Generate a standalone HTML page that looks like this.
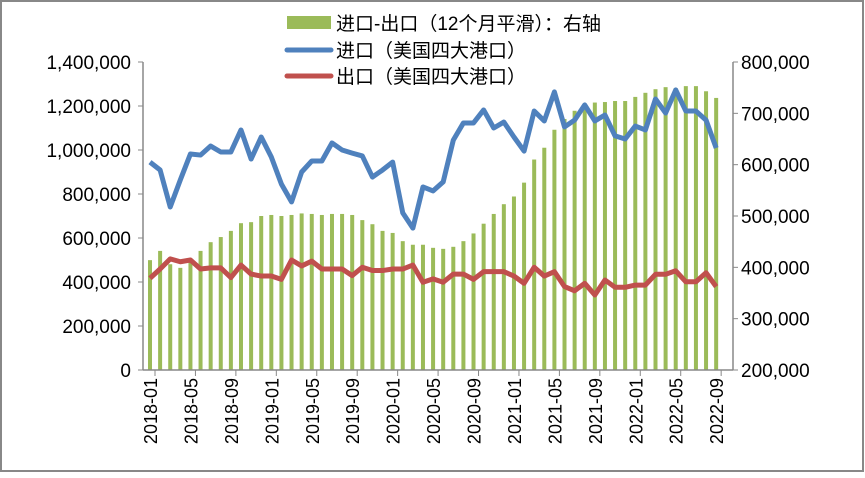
<!DOCTYPE html>
<html><head><meta charset="utf-8"><style>
body{margin:0;background:#fff;}
svg text{font-family:"Liberation Sans","Noto Sans CJK SC",sans-serif;fill:#000;}
</style></head><body>
<svg id="c" width="865" height="473" xmlns="http://www.w3.org/2000/svg">
<rect x="1" y="1" width="862" height="470" fill="#fff" stroke="#888" stroke-width="2"/>
<g id="legend">
<rect x="287" y="16" width="44" height="13" fill="#9bbb59"/>
<text x="336" y="30" font-size="19">进口-出口（12个月平滑）：右轴</text>
<line x1="287" y1="50" x2="331" y2="50" stroke="#4f81bd" stroke-width="5" stroke-linecap="round"/>
<text x="336" y="57" font-size="19">进口（美国四大港口）</text>
<line x1="287" y1="76" x2="331" y2="76" stroke="#c0504d" stroke-width="5" stroke-linecap="round"/>
<text x="336" y="83" font-size="19">出口（美国四大港口）</text>
</g>
<g id="plot"></g>
</svg>
<script>
const months=[];for(let y=2018;y<=2022;y++)for(let m=1;m<=12;m++){if(y===2022&&m>9)break;months.push(y+'-'+String(m).padStart(2,'0'));}
const imports=[945,909,741,864,982,977,1018,991,991,1091,959,1059,968,845,764,900,950,950,1032,1000,986,973,877,909,945,714,645,832,814,855,1045,1123,1123,1182,1100,1127,1059,995,1177,1132,1264,1105,1136,1205,1132,1159,1064,1050,1109,1091,1232,1168,1273,1177,1177,1136,1009];
const exportsV=[417,459,505,492,500,459,464,464,420,477,436,427,427,412,500,473,495,459,459,459,429,467,452,452,459,459,477,399,414,399,436,436,412,447,447,447,427,394,467,427,447,379,360,394,341,409,376,376,386,386,435,435,451,401,401,442,379];
const balance=[414,432,406,399,413,432,449,459,471,486,488,500,502,500,502,505,504,502,504,504,502,492,484,471,467,451,444,444,438,436,440,451,466,485,504,523,538,565,610,633,668,689,705,716,721,722,724,724,732,740,747,751,749,753,753,743,730];
const leftTicks=[0,200,400,600,800,1000,1200,1400];
const rightTicks=[200,300,400,500,600,700,800];
const NS='http://www.w3.org/2000/svg';
const X0=150,DX=10.11,YT=62,YB=370;
const xs=i=>X0+i*DX;
const yL=v=>YB-v/1400*(YB-YT);
const yR=v=>YB-(v-200)/600*(YB-YT);
const g=document.getElementById('plot');
function mk(t,a){const e=document.createElementNS(NS,t);for(const k in a)e.setAttribute(k,a[k]);g.appendChild(e);return e;}
const fmt=v=>(v*1000).toLocaleString('en-US');
balance.forEach((v,i)=>{const e=mk('rect',{x:xs(i)-2,y:yR(v),width:4,height:YB-yR(v),fill:'#9bbb59'});

});
let ax=mk('line',{x1:143,y1:YT,x2:143,y2:YB,stroke:'#888','stroke-width':1.5});


ax=mk('line',{x1:733,y1:YT,x2:733,y2:YB,stroke:'#888','stroke-width':1.5});


ax=mk('line',{x1:143,y1:YB,x2:733,y2:YB,stroke:'#888','stroke-width':1.5});


leftTicks.forEach(v=>{const y=yL(v);mk('line',{x1:138,y1:y,x2:143,y2:y,stroke:'#888'});
const t=mk('text',{x:131,y:y+7,'font-size':19,'text-anchor':'end'});t.textContent=fmt(v);

});
rightTicks.forEach(v=>{const y=yR(v);mk('line',{x1:733,y1:y,x2:738,y2:y,stroke:'#888'});
const t=mk('text',{x:741,y:y+7,'font-size':19});t.textContent=fmt(v);

});
months.forEach((m,i)=>{if(i%4)return;const x=xs(i);mk('line',{x1:x+5,y1:YB,x2:x+5,y2:YB+6,stroke:'#888'});
const t=mk('text',{x:0,y:0,'font-size':18,'text-anchor':'end',transform:`translate(${x+7},378) rotate(-90)`});t.textContent=m;

});
function line(arr,col,name){const p=mk('polyline',{points:arr.map((v,i)=>xs(i)+','+yL(v)).join(' '),fill:'none',stroke:col,'stroke-width':5,'stroke-linejoin':'round'});

}
line(imports,'#4f81bd','import-line');
line(exportsV,'#c0504d','export-line');
</script>
</body></html>
